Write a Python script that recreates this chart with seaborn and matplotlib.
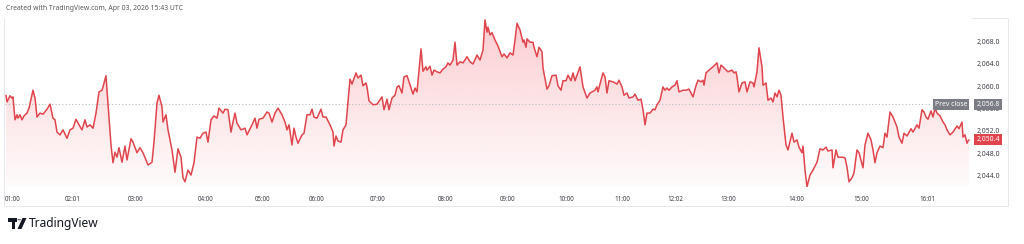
import numpy as np
import pandas as pd
import matplotlib
matplotlib.use("Agg")
import matplotlib.pyplot as plt
import seaborn as sns
from matplotlib.patches import Rectangle, Polygon, Circle

# ---------------- data ----------------
bars = [0, 1, 4, 6, 7, 9, 11, 12, 14, 16, 18, 21, 23, 27, 29, 31, 34, 37, 41, 44, 47, 49, 51, 54, 57, 61, 64, 67,
        70, 73, 76, 79, 81, 84, 87, 90, 93, 96, 97, 100, 101, 105, 107, 109, 111, 113, 116, 119, 121, 125, 127,
        131, 134, 137, 142, 146, 148, 151, 153, 156, 157, 160, 162, 166, 169, 172, 175, 177, 179, 182, 185, 188,
        191, 194, 197, 200, 202, 205, 208, 211, 213, 217, 219, 222, 225, 227, 229, 231, 235, 239,
        241, 246, 249, 251, 253, 257, 261, 263, 266, 269, 272, 276, 279, 281, 283, 286, 288, 290, 292, 296, 298,
        301, 304, 306, 308, 311, 315, 317, 320, 324, 327, 328, 330, 332, 335, 337, 340, 344, 346, 350, 352, 355,
        357, 360, 361, 363, 367, 371, 376, 378, 381, 383, 386, 389, 391, 393, 396, 398, 401, 403, 407, 409, 411,
        415, 417, 420, 421, 424, 426, 428, 431, 434, 437, 440, 442, 444, 447, 449, 451, 454, 457, 461, 464, 467,
        471, 474,
        477, 479, 481, 482, 484, 486, 489, 492, 496, 498, 501, 504, 507, 509, 511, 514, 517, 518, 520, 521, 524,
        527, 528, 531, 533, 536, 537, 541, 543, 546, 550, 552, 555, 557, 560, 562, 565, 567, 569, 574, 577, 581,
        584, 589, 591, 592, 595, 597, 599, 601, 603, 607, 611, 613, 616, 618, 621, 623, 627, 629, 632, 635, 637,
        639, 641, 644, 647, 649, 651, 654, 657, 659, 661, 663, 666, 669, 671, 673, 677, 680, 683, 687, 690, 692,
        695, 697, 698, 700, 703, 707, 711, 713, 715, 717,
        719, 722, 726, 728, 730, 731, 733, 736, 739, 741, 744, 747, 748, 751, 753, 756, 757, 760, 762, 765, 767,
        769, 771, 773, 775, 777, 780, 782, 786, 788, 791, 793, 796, 797, 799, 801, 804, 807, 811, 814, 817, 820,
        822, 826, 827, 830, 832, 836, 839, 841, 843, 846, 848, 851, 853, 857, 859, 862, 865, 867, 869, 871, 874,
        877, 879, 881, 884, 887, 889, 891, 893, 896, 898, 901, 905, 907, 911, 913, 916, 918, 920, 922, 925, 927,
        929, 931, 934, 937, 939, 941, 944, 947, 951, 953, 956, 957, 959, 961, 962, 963]

prices = [2058.4, 2057.2, 2058.3, 2057.9, 2058.1, 2054.0, 2054.9, 2054.3, 2054.9, 2054.0, 2054.7, 2055.2, 2056.1,
          2059.3, 2057.9, 2054.5, 2055.2, 2055.0, 2055.9, 2056.8, 2054.3, 2054.0, 2051.8, 2051.3, 2052.2, 2050.7,
          2052.2, 2052.5, 2054.1, 2053.1, 2052.2, 2054.0, 2052.7, 2053.1, 2052.5, 2055.2, 2059.0, 2059.3, 2059.9,
          2061.9, 2059.3, 2049.5, 2046.3, 2048.2, 2047.3, 2049.0, 2046.4, 2049.3, 2046.8, 2050.6, 2050.0, 2048.1,
          2049.0, 2048.1, 2045.9, 2046.4, 2050.0, 2057.0, 2058.4, 2056.3, 2053.6, 2054.9, 2052.2, 2048.6, 2044.6,
          2048.8, 2047.3, 2043.6, 2042.9, 2045.0, 2044.1, 2046.3, 2050.9, 2050.7, 2051.6, 2051.8, 2050.0, 2054.0,
          2054.7, 2054.3, 2056.1, 2055.2, 2055.9, 2055.8, 2051.8, 2053.6, 2055.2, 2053.4, 2052.2, 2052.5,
          2051.3, 2053.1, 2054.3, 2052.5, 2054.1, 2054.3, 2055.4, 2055.2, 2053.6, 2055.2, 2056.1, 2054.9, 2053.6,
          2052.2, 2053.1, 2049.5, 2052.5, 2050.9, 2049.8, 2051.3, 2051.6, 2054.9, 2054.9, 2055.9, 2054.5, 2054.3,
          2055.9, 2054.5, 2054.5, 2053.1, 2051.8, 2049.3, 2051.1, 2050.2, 2050.0, 2052.2, 2053.1, 2061.3, 2060.4,
          2062.4, 2061.5, 2062.0, 2060.1, 2060.6, 2059.9, 2057.4, 2056.7, 2056.8, 2058.1, 2055.8, 2057.7, 2055.8,
          2057.9, 2058.4, 2059.9, 2060.1, 2058.8, 2061.7, 2061.9, 2060.8, 2058.6, 2059.7, 2059.0, 2066.7, 2062.7,
          2063.5, 2062.9, 2063.6, 2062.0, 2062.9, 2062.6, 2062.4, 2063.1, 2063.5, 2064.2, 2063.8, 2064.7, 2067.9,
          2063.8, 2064.4, 2064.2, 2065.3, 2064.4, 2064.0, 2065.6, 2064.7,
          2066.5, 2071.9, 2069.7, 2070.6, 2069.2, 2069.6, 2068.3, 2067.2, 2065.3, 2065.8, 2065.1, 2066.0, 2065.6,
          2068.3, 2071.3, 2070.1, 2067.9, 2068.3, 2067.0, 2068.5, 2067.9, 2067.9, 2067.0, 2065.3, 2067.0, 2066.2,
          2063.3, 2059.5, 2060.1, 2061.9, 2062.0, 2060.1, 2059.3, 2061.0, 2061.0, 2062.0, 2061.0, 2062.4, 2061.0,
          2063.5, 2059.9, 2057.9, 2058.8, 2059.3, 2059.9, 2059.0, 2061.1, 2062.4, 2061.7, 2058.8, 2061.0, 2060.8,
          2060.4, 2061.1, 2059.9, 2058.4, 2058.8, 2057.9, 2058.1, 2058.6, 2057.5, 2057.7, 2055.8, 2053.1, 2055.2,
          2055.2, 2055.9, 2055.8, 2056.7, 2057.5, 2059.9, 2059.3, 2059.7, 2059.3, 2059.9, 2060.2, 2061.0, 2059.0,
          2059.3, 2059.3, 2059.5, 2058.1, 2060.1, 2061.1, 2060.8, 2061.1, 2060.2, 2062.4, 2062.9, 2063.5, 2064.2,
          2062.4, 2063.8, 2063.5,
          2063.1, 2062.6, 2062.9, 2062.4, 2062.6, 2061.7, 2059.0, 2060.6, 2060.8, 2059.0, 2060.8, 2060.6, 2059.9,
          2062.6, 2066.9, 2063.5, 2060.2, 2060.6, 2057.5, 2057.9, 2057.2, 2058.8, 2058.1, 2059.3, 2058.4, 2054.5,
          2049.5, 2048.6, 2051.6, 2050.0, 2050.4, 2049.1, 2048.1, 2049.3, 2045.0, 2042.0, 2044.1, 2045.0, 2046.4,
          2048.8, 2048.6, 2049.1, 2048.4, 2048.6, 2045.4, 2048.6, 2047.3, 2047.3, 2047.2, 2045.5, 2042.9, 2043.6,
          2044.5, 2048.6, 2048.1, 2045.4, 2049.5, 2051.6, 2050.4, 2048.6, 2046.3, 2048.1, 2049.3, 2049.0, 2051.6,
          2050.9, 2055.4, 2054.5, 2053.6, 2052.7, 2050.9, 2049.8, 2051.6, 2051.1, 2052.4, 2051.8, 2053.1, 2052.5,
          2055.8, 2055.4, 2054.5, 2054.1, 2055.6, 2054.5, 2056.1, 2055.2, 2054.7, 2053.6, 2053.1, 2052.2, 2051.3,
          2051.8, 2052.9, 2052.4, 2053.6, 2050.9, 2051.3, 2049.8, 2050.2, 2050.4]

tick_bars = [7, 67, 130, 200, 257, 311, 372, 440, 502, 560, 616, 669, 722, 790, 855, 921]
tick_labels = ["01:00", "02:01", "03:00", "04:00", "05:00", "06:00", "07:00", "08:00",
               "09:00", "10:00", "11:00", "12:02", "13:00", "14:00", "15:00", "16:01"]
price_ticks = [2044.0, 2048.0, 2052.0, 2056.0, 2060.0, 2064.0, 2068.0]
prev_close = 2056.8
last_price = 2050.4
header = "Created with TradingView.com, Apr 03, 2026 15:43 UTC"

# ---------------- style ----------------
sns.set_theme(style="white")
plt.rcParams["font.family"] = ["Noto Sans", "DejaVu Sans"]

RED = "#e0454d"
GRID = "#e6e8ee"
TXT = "#3d4048"

df = pd.DataFrame({"bar": bars, "price": prices})

W, H = 1024, 244
fig = plt.figure(figsize=(W / 100, H / 100), dpi=100)
fig.patch.set_facecolor("white")

# pane: x 5..972 px, y 18..187 px
ax = fig.add_axes([5 / W, (H - 187) / H, 967 / W, 169 / H])
ax.set_facecolor("white")

y_lo, y_hi = 2041.96, 2072.24
x_lo, x_hi = -1, 966

# line
sns.lineplot(data=df, x="bar", y="price", color=RED, linewidth=1.1, ax=ax, zorder=4)

# gradient area fill under the line
poly = ax.fill_between(df["bar"], df["price"], y_lo, facecolor="none", edgecolor="none")
path = poly.get_paths()[0]
n = 256
grad = np.zeros((n, 1, 4))
grad[:, 0, 0] = 242 / 255
grad[:, 0, 1] = 54 / 255
grad[:, 0, 2] = 69 / 255
grad[:, 0, 3] = np.linspace(0.02, 0.25, n)
im = ax.imshow(grad, extent=[x_lo, x_hi, y_lo, df["price"].max()], origin="lower",
               aspect="auto", zorder=2, interpolation="bilinear")
im.set_clip_path(path, transform=ax.transData)

# previous close dotted line
ax.axhline(prev_close, xmin=0, xmax=(930 - 5) / 967, color="#b8bbc4", lw=0.8,
           linestyle=(0, (1, 2)), zorder=3)

ax.set_xlim(x_lo, x_hi)
ax.set_ylim(y_lo, y_hi)

# axes ticks
ax.set_xticks(tick_bars)
ax.set_xticklabels(tick_labels)
ax.yaxis.tick_right()
ax.set_yticks(price_ticks)
ax.set_yticklabels([f"{v:,.1f}" for v in price_ticks])
ax.tick_params(axis="x", length=0, pad=6.5, labelsize=4.5, labelcolor=TXT)
ax.tick_params(axis="y", length=0, pad=3.6, labelsize=4.9, labelcolor=TXT)
ax.set_xlabel("")
ax.set_ylabel("")
for s in ax.spines.values():
    s.set_visible(False)

# labels on the price scale
trans = matplotlib.transforms.blended_transform_factory(ax.transAxes, ax.transData)
ax.text((951 - 5) / 967, prev_close, "Prev close", transform=trans, ha="center", va="center",
        fontsize=4.9, color="white", zorder=6, clip_on=False,
        bbox=dict(boxstyle="square,pad=0.28", facecolor="#7b7d84", edgecolor="none"))
ax.text((988 - 5) / 967, prev_close, f"{prev_close:,.1f}", transform=trans, ha="center", va="center",
        fontsize=4.9, color="white", zorder=6, clip_on=False,
        bbox=dict(boxstyle="square,pad=0.28", facecolor="#7b7d84", edgecolor="none"))
ax.text((988 - 5) / 967, last_price, f"{last_price:,.1f}", transform=trans, ha="center", va="center",
        fontsize=4.9, color="white", zorder=6, clip_on=False,
        bbox=dict(boxstyle="square,pad=0.28", facecolor="#e0454d", edgecolor="none"))

# chart frame (pane + price scale + time scale)
fig.add_artist(Rectangle((3.5 / W, (H - 206) / H), 1004.5 / W, 188 / H, transform=fig.transFigure,
                         fill=False, edgecolor=GRID, lw=0.7, zorder=0))

# header
fig.text(6 / W, 1 - 9 / H, header, ha="left", va="center", fontsize=4.9, color="#55585f")

# TradingView logo
ft = fig.transFigure
def fx(px):
    return px / W
def fy(py):
    return 1 - py / H
fig.add_artist(Polygon([(fx(8), fy(218)), (fx(17), fy(218)), (fx(17), fy(221.5)), (fx(15), fy(221.5)),
                        (fx(15), fy(229)), (fx(12), fy(229)), (fx(12), fy(221.5)), (fx(8), fy(221.5))],
                       closed=True, transform=ft, facecolor="#131722", edgecolor="none"))
fig.add_artist(Circle((fx(19.2), fy(219.8)), 1.9 / W, transform=ft,
                      facecolor="#131722", edgecolor="none"))
fig.add_artist(Polygon([(fx(22.5), fy(218)), (fx(26.5), fy(218)), (fx(21.5), fy(229)), (fx(17.5), fy(229))],
                       closed=True, transform=ft, facecolor="#131722", edgecolor="none"))
fig.text(fx(29), fy(223.5), "TradingView", ha="left", va="center", fontsize=8.6,
         fontweight="semibold", color="#131722")

fig.savefig("out.png", dpi=100, facecolor="white")
